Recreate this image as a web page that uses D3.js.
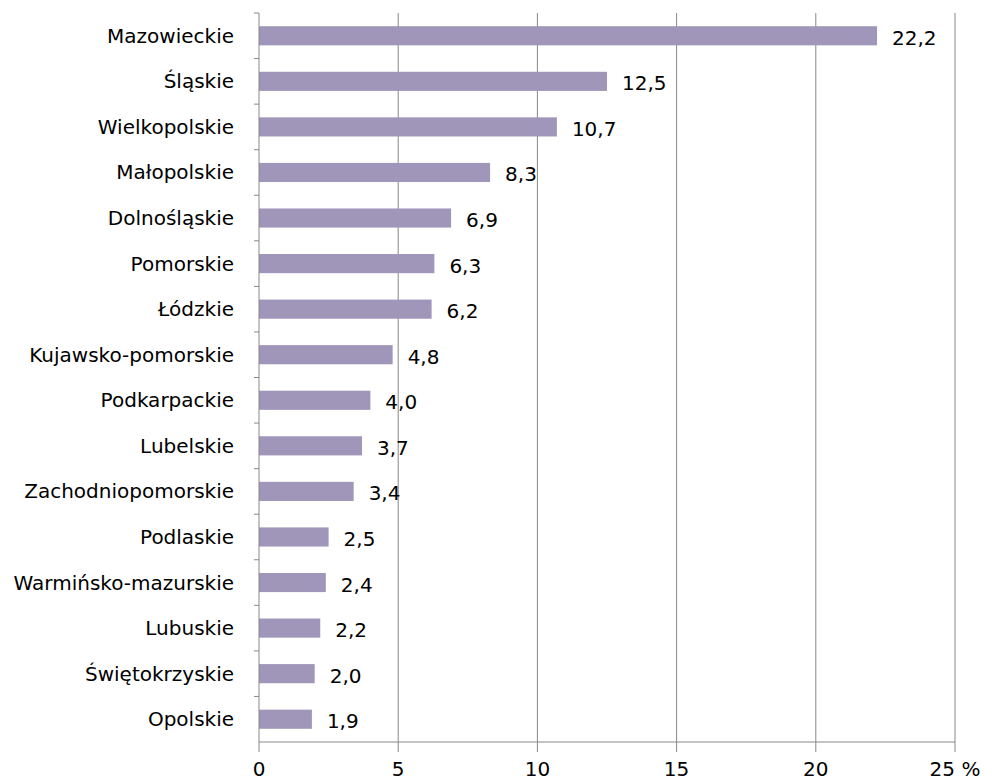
<!DOCTYPE html>
<html>
<head>
<meta charset="utf-8">
<script src="https://cdn.jsdelivr.net/npm/d3@7"></script>
<style>
  body { margin: 0; background: #fff; }
  svg text { font-family: "DejaVu Sans", sans-serif; fill: #000; }
</style>
</head>
<body>
<div id="chart"></div>
<script>
const regions = ["Mazowieckie", "Śląskie", "Wielkopolskie", "Małopolskie", "Dolnośląskie",
  "Pomorskie", "Łódzkie", "Kujawsko-pomorskie", "Podkarpackie", "Lubelskie",
  "Zachodniopomorskie", "Podlaskie", "Warmińsko-mazurskie", "Lubuskie",
  "Świętokrzyskie", "Opolskie"];
const shares = [22.2, 12.5, 10.7, 8.3, 6.9, 6.3, 6.2, 4.8, 4.0, 3.7, 3.4, 2.5, 2.4, 2.2, 2.0, 1.9];
const xTicks = [0, 5, 10, 15, 20, 25];

const margin = { LEFT: 259, RIGHT: 30, TOP: 13, BOTTOM: 39 };
const W = 985, H = 781;
const width = W - margin.LEFT - margin.RIGHT;
const height = H - margin.TOP - margin.BOTTOM;

const svg = d3.select("#chart").append("svg")
  .attr("width", W)
  .attr("height", H);

const g = svg.append("g")
  .attr("transform", `translate(${margin.LEFT}, ${margin.TOP})`);

const x = d3.scaleLinear().domain([0, 25]).range([0, 696]);
const y = d3.scaleBand().domain(regions).range([0, height]).paddingInner(0.58).paddingOuter(0.29);

const fmt = v => v.toFixed(1).replace(".", ",");
const axisColor = "#888";

// gridlines
g.selectAll(".grid")
  .data(xTicks.slice(1))
  .enter().append("line")
  .attr("x1", d => x(d)).attr("x2", d => x(d))
  .attr("y1", 0).attr("y2", height)
  .attr("stroke", axisColor)
  .attr("stroke-width", 1);

// bars
g.selectAll(".bar")
  .data(regions)
  .enter().append("rect")
  .attr("x", 0)
  .attr("y", d => y(d))
  .attr("width", (d, i) => x(shares[i]))
  .attr("height", y.bandwidth())
  .attr("fill", "#a096b9");

// value labels
g.selectAll(".val")
  .data(regions)
  .enter().append("text")
  .attr("x", (d, i) => x(shares[i]) + 15)
  .attr("y", d => y(d) + y.bandwidth() / 2 + 2)
  .attr("dy", "0.35em")
  .attr("font-size", "20px")
  .text((d, i) => fmt(shares[i]));

// y axis with category boundary ticks
const yAxis = g.append("g");
yAxis.append("line")
  .attr("x1", 0).attr("x2", 0).attr("y1", 0).attr("y2", height)
  .attr("stroke", axisColor);
yAxis.selectAll(".ytick")
  .data(d3.range(regions.length))
  .enter().append("line")
  .attr("x1", -5).attr("x2", 0)
  .attr("y1", d => d * height / regions.length)
  .attr("y2", d => d * height / regions.length)
  .attr("stroke", axisColor);
yAxis.selectAll(".ylab")
  .data(regions)
  .enter().append("text")
  .attr("x", -25)
  .attr("y", d => y(d) + y.bandwidth() / 2)
  .attr("dy", "0.35em")
  .attr("text-anchor", "end")
  .attr("font-size", "20px")
  .text(d => d);

// x axis
const xAxis = g.append("g").attr("transform", `translate(0, ${height})`);
xAxis.append("line")
  .attr("x1", 0).attr("x2", x(25))
  .attr("stroke", axisColor);
xAxis.selectAll(".xtick")
  .data(xTicks)
  .enter().append("line")
  .attr("x1", d => x(d)).attr("x2", d => x(d))
  .attr("y1", 0).attr("y2", 10)
  .attr("stroke", axisColor);
xAxis.selectAll(".xlab")
  .data(xTicks)
  .enter().append("text")
  .attr("x", d => x(d))
  .attr("y", 27)
  .attr("dy", "0.35em")
  .attr("text-anchor", "middle")
  .attr("font-size", "20px")
  .text(d => d === 25 ? "25 %" : d);
</script>
</body>
</html>
